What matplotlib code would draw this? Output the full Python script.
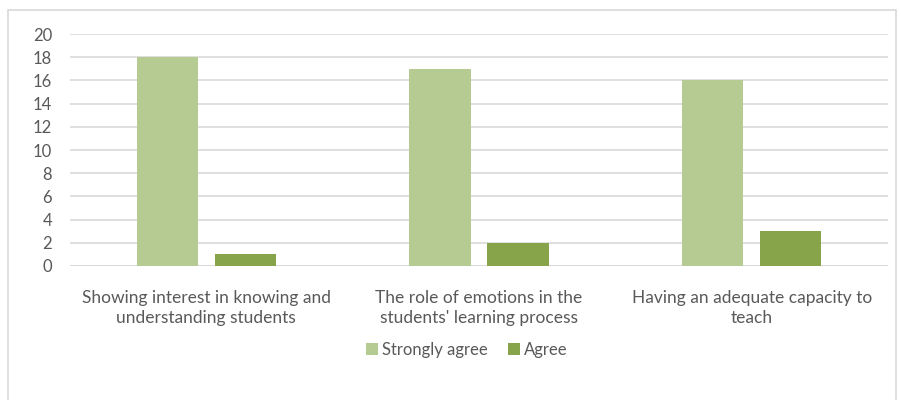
import matplotlib.pyplot as plt
import matplotlib.patches as mpatches
import numpy as np

# Data
categories = ["Showing interest in knowing and\nunderstanding students",
              "The role of emotions in the\nstudents' learning process",
              "Having an adequate capacity to\nteach"]
strongly_agree = [18, 17, 16]
agree = [1, 2, 3]
series_names = ["Strongly agree", "Agree"]
yticks = list(range(0, 21, 2))

light = "#B5CB91"
dark = "#87A44B"
grey_text = "#595959"
grid_col = "#D9D9D9"

plt.rcParams['font.family'] = ['Lato', 'DejaVu Sans']

fig = plt.figure(figsize=(9.01, 4.0), dpi=100)
ax = fig.add_axes([70/901, 1 - 266/400, (888-70)/901, (266-34)/400])

x = np.arange(len(categories))
w = 0.224
off = 0.143
ax.bar(x - off, strongly_agree, w, color=light, label=series_names[0], zorder=3)
ax.bar(x + off, agree, w, color=dark, label=series_names[1], zorder=3)

ax.set_xlim(-0.5, len(categories) - 0.5)
ax.set_ylim(0, 20)
ax.set_yticks(yticks)
ax.yaxis.grid(True, color=grid_col, linewidth=1.2)
ax.set_axisbelow(True)
for s in ax.spines.values():
    s.set_visible(False)
ax.tick_params(axis='both', length=0, colors=grey_text, labelsize=12)
ax.tick_params(axis='x', labelsize=12.5)
ax.tick_params(axis='y', pad=13)
ax.tick_params(axis='x', pad=17)
ax.set_xticks(x)
ax.set_xticklabels(categories, linespacing=1.3)
# bottom axis line
ax.axhline(0, color=grid_col, linewidth=1.2, zorder=2)

leg = fig.legend(loc='center', bbox_to_anchor=(467/901, 1 - 350/400), ncol=2,
                 frameon=False, fontsize=12, handlelength=0.7, handleheight=0.7,
                 handletextpad=0.25, columnspacing=1.2)
for t in leg.get_texts():
    t.set_color(grey_text)

# outer chart border
fig.patches.append(mpatches.Rectangle((8/901, -0.05), (896-8)/901, 1.05 - 10/400,
                                      transform=fig.transFigure, fill=False,
                                      edgecolor=grid_col, linewidth=1.2))

fig.savefig("out.png", dpi=100, facecolor="white")
